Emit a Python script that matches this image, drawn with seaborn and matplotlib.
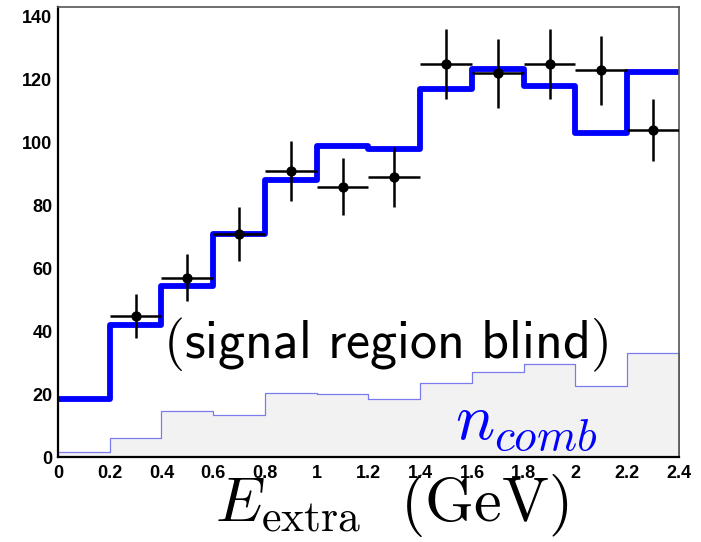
import numpy as np
import pandas as pd
import matplotlib
matplotlib.use("Agg")
import matplotlib.pyplot as plt
from matplotlib.ticker import MultipleLocator, FuncFormatter
import seaborn as sns

# Bin edges and centres for E_extra (GeV)
bin_edges = [0.0, 0.2, 0.4, 0.6, 0.8, 1.0, 1.2, 1.4, 1.6, 1.8, 2.0, 2.2, 2.4]
bin_centres = [0.1, 0.3, 0.5, 0.7, 0.9, 1.1, 1.3, 1.5, 1.7, 1.9, 2.1, 2.3]

# Expected yield (thick blue histogram)
mc_total = [18.5, 42, 54.5, 71, 88, 99, 98, 117, 123.5, 118, 103, 122.5]

# Combinatorial background (grey filled histogram)
n_comb = [1.5, 6, 14.5, 13.5, 20.5, 20, 18.5, 23.5, 27, 29.5, 22.5, 33]

# Data points (first bin is blind)
data_x = [0.3, 0.5, 0.7, 0.9, 1.1, 1.3, 1.5, 1.7, 1.9, 2.1, 2.3]
data_y = [45, 57, 71, 91, 86, 89, 125, 122, 125, 123, 104]
data_err = [7, 7.5, 8.5, 9.5, 9, 9.5, 11, 11, 11, 11, 10]

sns.set_theme(style="white")
plt.rcParams["mathtext.fontset"] = "cm"
plt.rcParams["font.family"] = ["Liberation Sans", "DejaVu Sans"]
plt.rcParams["text.color"] = "black"
plt.rcParams["xtick.color"] = "black"
plt.rcParams["ytick.color"] = "black"

fig = plt.figure(figsize=(7.01, 5.42), dpi=100)
ax = fig.add_axes([0.0827, 0.1568, 0.8859, 0.8295])

hist_df = pd.DataFrame({"x": bin_centres, "total": mc_total, "comb": n_comb})

sns.histplot(data=hist_df, x="x", weights="comb", bins=bin_edges,
             element="step", fill=True, color="#f2f2f2", alpha=1.0,
             edgecolor="#7b7bf0", linewidth=0.9, ax=ax)
sns.histplot(data=hist_df, x="x", weights="total", bins=bin_edges,
             element="step", fill=False, color="#0000ff", linewidth=4.2,
             ax=ax)

ax.errorbar(data_x, data_y, xerr=0.1, yerr=data_err, fmt="none",
            ecolor="black", elinewidth=1.8, capsize=0, zorder=5)
sns.scatterplot(x=data_x, y=data_y, color="black", s=55, edgecolor="black",
                linewidth=0, zorder=6, ax=ax)

ax.set_xlim(0, 2.4)
ax.set_ylim(0, 143)

# Axis styling
ax.xaxis.set_major_locator(MultipleLocator(0.2))
ax.xaxis.set_minor_locator(MultipleLocator(0.05))
ax.yaxis.set_major_locator(MultipleLocator(20))
ax.yaxis.set_minor_locator(MultipleLocator(5))
ax.xaxis.set_major_formatter(FuncFormatter(lambda v, p: f"{v:g}"))
ax.tick_params(axis="both", which="both", direction="in",
               top=False, right=False)
ax.tick_params(axis="y", which="major", length=18, width=1.3, pad=4,
               labelsize=13)
ax.tick_params(axis="y", which="minor", length=9, width=1.0)
ax.tick_params(axis="x", which="major", length=12, width=1.3, pad=6,
               labelsize=13)
ax.tick_params(axis="x", which="minor", length=6, width=1.0)
for lab in ax.get_xticklabels() + ax.get_yticklabels():
    lab.set_fontweight("bold")

for side in ("left", "bottom"):
    ax.spines[side].set_color("black")
    ax.spines[side].set_linewidth(1.6)
for side in ("top", "right"):
    ax.spines[side].set_color("#555555")
    ax.spines[side].set_linewidth(1.2)

ax.set_ylabel("")
ax.set_xlabel("")
fig.text(0.5585, 0.005, r"$E_{\rm extra}\ \ (\mathrm{GeV})$", fontsize=45,
         ha="center", va="bottom", color="black")

ax.text(1.265, 35.5, r"$\mathsf{(signal\ region\ blind)}$", fontsize=39,
        ha="center", va="center", color="black")
ax.text(1.81, 10.5, r"$n_{comb}$", fontsize=47, ha="center", va="center",
        color="#0000ff")

fig.savefig("out.png", dpi=100)
